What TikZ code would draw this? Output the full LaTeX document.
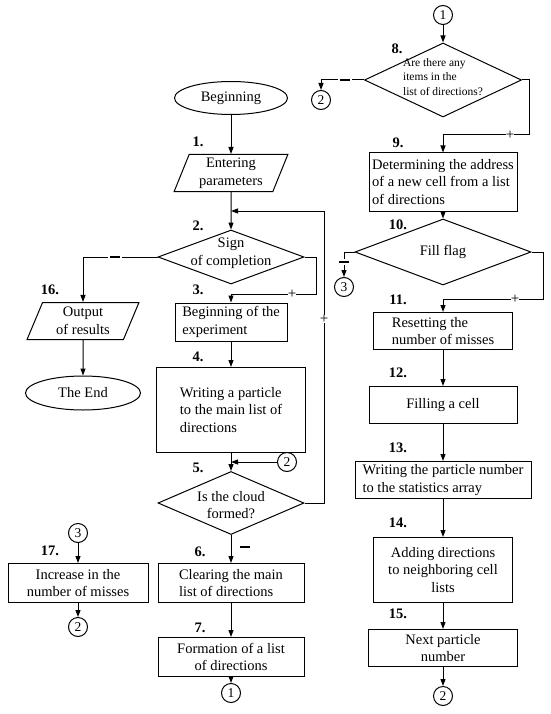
\documentclass[tikz,border=0pt]{standalone}
\usepackage{fontspec}
\setmainfont{Liberation Serif}
\usetikzlibrary{shapes.geometric,arrows.meta}
\newcommand{\minusbar}{\rule{10pt}{2.5pt}}
\begin{document}
\begin{tikzpicture}[x=1pt, y=-1pt, line width=1pt,
  font=\fontsize{14.5}{17.5}\selectfont,
  >={Triangle[length=7pt,width=5pt]},
  term/.style={draw, ellipse, inner sep=1pt},
  io/.style={draw, trapezium, trapezium left angle=70, trapezium right angle=110,
    trapezium stretches=true, align=center, inner sep=1pt},
  proc/.style={draw, rectangle, inner sep=2pt},
  dec/.style={draw, diamond, inner sep=0pt},
  conn/.style={draw, circle, inner sep=0pt, minimum size=19pt, font=\fontsize{13.5}{13.5}\selectfont},
  num/.style={font=\fontsize{14.5}{14.5}\selectfont\bfseries},
  plus/.style={fill=white, inner sep=0pt, font=\fontsize{15}{15}\selectfont},
  minus/.style={fill=white, inner sep=2pt}]
  \useasboundingbox (0,0) rectangle (550,714);
  % Coluna principal
  \node (beg) at (231,98) [term, minimum width=113, minimum height=33] {Beginning};
  \node (b1) at (231,173) [io, minimum width=114, minimum height=37] {Entering\\parameters};
  \node (d2) at (231,257) [dec, minimum width=146, minimum height=54,
    label={[align=center, yshift=4pt]center:{Sign\\of completion}}] {};
  \node (b3) at (231,322) [proc, minimum width=112, minimum height=38, align=left] {Beginning of the\\experiment};
  \node (b4) at (231,410) [proc, minimum width=149, minimum height=85, align=left] {Writing a particle\\to the main list of\\directions};
  \node (d5) at (231,503) [dec, minimum width=146, minimum height=63,
    label={[align=center, yshift=-2pt]center:{Is the cloud\\formed?}}] {};
  \node (b6) at (231,583) [proc, minimum width=146, minimum height=39, align=left] {Clearing the main\\list of directions};
  \node (b7) at (231,657) [proc, minimum width=146, minimum height=39, align=center] {Formation of a list\\of directions};
  \node (c1a) at (231,693) [conn] {1};
  \node (c2a) at (287,462) [conn] {2};
  % Fim
  \node (b16) at (83,321) [io, minimum width=112, minimum height=37] {Output\\of results};
  \node (fin) at (83,393) [term, minimum width=115, minimum height=34] {The End};
  % Falhas
  \node (c3a) at (78,533) [conn] {3};
  \node (b17) at (78,583) [proc, minimum width=140, minimum height=39, align=center] {Increase in the\\number of misses};
  \node (c2c) at (78,627) [conn] {2};
  % Coluna da direita
  \node (c1b) at (443,15) [conn] {1};
  \node (d8) at (443,80) [dec, minimum width=157, minimum height=74,
    label={[align=left, yshift=3pt, font=\fontsize{11.5}{14.5}\selectfont]center:{Are there any\\items in the\\list of directions?}}] {};
  \node (c2b) at (321,100) [conn] {2};
  \node (b9) at (443,182) [proc, minimum width=148, minimum height=58, align=left] {Determining the address\\of a new cell from a list\\of directions};
  \node (d10) at (443,252) [dec, minimum width=176, minimum height=66,
    label={center:Fill flag}] {};
  \node (c3b) at (344,287) [conn] {3};
  \node (b11) at (443,331) [proc, minimum width=139, minimum height=37, align=left] {Resetting the\\number of misses};
  \node (b12) at (443,405) [proc, minimum width=148, minimum height=37] {Filling a cell};
  \node (b13) at (443,480) [proc, minimum width=176, minimum height=37, align=left] {Writing the particle number\\to the statistics array};
  \node (b14) at (443,570) [proc, minimum width=139, minimum height=65, align=center] {Adding directions\\to neighboring cell\\lists};
  \node (b15) at (443,648) [proc, minimum width=149, minimum height=37, align=center] {Next particle\\number};
  \node (c2d) at (443,696) [conn] {2};
  % Numeros dos passos
  \node (s1) at (198,142) [num] {1.};
  \node (s2) at (198,226) [num] {2.};
  \node (s3) at (198,290) [num] {3.};
  \node (s4) at (198,357) [num] {4.};
  \node (s5) at (198,468) [num] {5.};
  \node (s6) at (200,552) [num] {6.};
  \node (s7) at (200,628) [num] {7.};
  \node (s16) at (50,290) [num] {16.};
  \node (s17) at (50,551) [num] {17.};
  \node (s8) at (397,49) [num] {8.};
  \node (s9) at (398,143) [num] {9.};
  \node (s10) at (398,225) [num] {10.};
  \node (s11) at (398,300) [num] {11.};
  \node (s12) at (398,373) [num] {12.};
  \node (s13) at (398,448) [num] {13.};
  \node (s14) at (398,523) [num] {14.};
  \node (s15) at (398,614) [num] {15.};
  % Ligacoes
  \coordinate (j2) at (231,211);
  \coordinate (j5) at (231,462);
  \draw[->] (beg) -- (b1);
  \draw[->] (b1) -- (d2);
  \draw[->] (d2.east) -- (316,257) -- (316,294) -- node[plus, pos=0.28] {+} (231,294) -- (b3);
  \draw[->] (d2.west) -- node[minus, pos=0.57] {\minusbar} (83,257) -- (b16);
  \draw[->] (b16) -- (fin);
  \draw[->] (b3) -- (b4);
  \draw[->] (b4) -- (d5);
  \draw[->] (c2a) -- (j5);
  \draw[->] (d5.east) -- (324,503) -- node[plus, pos=0.63] {+} (324,211) -- (j2);
  \draw[->] (d5) -- node[minus, pos=0.43, xshift=14pt] {\minusbar} (b6);
  \draw[->] (b6) -- (b7);
  \draw[->] (b7) -- (c1a);
  \draw[->] (c3a) -- (b17);
  \draw[->] (b17) -- (c2c);
  \draw[->] (c1b) -- (d8);
  \draw[->] (d8.west) -- node[minus, pos=0.45] {\minusbar} (321,80) -- (c2b);
  \draw[->] (d8.east) -- (529,80) -- (529,135) -- node[plus, pos=0.22] {+} (443,135) -- (b9);
  \draw[->] (b9) -- (d10);
  \draw[->] (d10.west) -- (344,252) -- node[minus, pos=0.4] {\minusbar} (c3b);
  \draw[->] (d10.east) -- (543,252) -- (543,299) -- node[plus, pos=0.28] {+} (443,299) -- (b11);
  \draw[->] (b11) -- (b12);
  \draw[->] (b12) -- (b13);
  \draw[->] (b13) -- (b14);
  \draw[->] (b14) -- (b15);
  \draw[->] (b15) -- (c2d);
\end{tikzpicture}
\end{document}
